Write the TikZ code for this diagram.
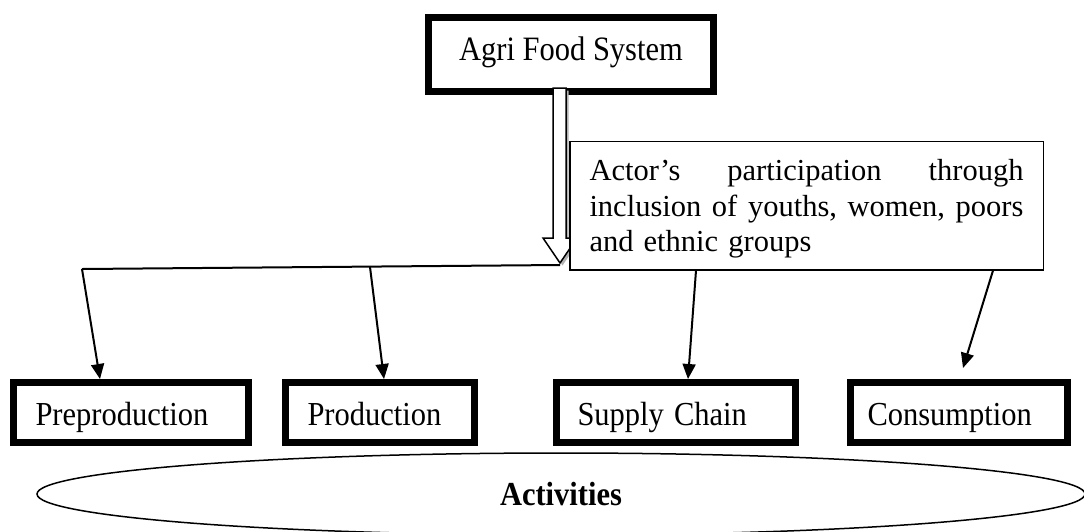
\documentclass[tikz,border=0pt]{standalone}
\usepackage{fontspec}
\setmainfont{Liberation Serif}
\usetikzlibrary{arrows.meta,shapes.geometric}
\newcommand{\vst}[1]{\scalebox{1}[1.1]{#1}}
\newcommand{\fullline}[1]{\leavevmode\hbox to 434pt{#1}}
\begin{document}
\begin{tikzpicture}[x=1pt,y=-1pt,
  bigfont/.style={font=\fontsize{30.5}{35.5}\selectfont},
  thickbox/.style={draw, line width=7pt, bigfont, inner ysep=0pt, minimum height=60pt,
                   text height=27pt, text depth=2pt, align=left},
  conn/.style={line width=2pt},
  arr/.style={line width=2pt, -{Triangle[length=15pt,width=13pt]}}]
\useasboundingbox (0,0) rectangle (1084,531);
\begin{scope}
\clip (0,0) rectangle (1084,531);

% top box
\node[draw, line width=7pt, bigfont, minimum width=285pt, minimum height=74pt,
      inner sep=0pt, text height=21pt, text depth=10pt] (agri) at (571,54.5)
      {\scalebox{1}[1.12]{Agri Food System}};

% horizontal distribution line
\coordinate (hl) at (82,269);
\coordinate (b2) at (370,267);
\coordinate (hr) at (560,265);
\draw[conn] (hl) -- (hr);

% bottom boxes
\node[thickbox, text width=191pt, inner xsep=22pt] (pre) at (131,412.5) {\vst{Preproduction}};
\node[thickbox, text width=145pt, inner xsep=22pt] (prod) at (380,412.5) {\vst{Production}};
\node[thickbox, text width=197pt, inner xsep=21pt] (sup) at (676,412.5) {\vst{Supply Chain}};
\node[thickbox, text width=183pt, inner xsep=17pt] (cons) at (959,412.5) {\vst{Consumption}};

% hollow block arrow with shadow
\begin{scope}[shift={(2.5,2.5)}]
\fill[gray!60] (553,88) -- (566,88) -- (566,238) -- (577,238) -- (560,263)
   -- (543,238) -- (553,238) -- cycle;
\end{scope}
\draw[fill=white, line width=1.5pt, line join=miter] (553,88) -- (566,88) -- (566,238)
   -- (577,238) -- (560,263) -- (543,238) -- (553,238) -- cycle;

% text box
\node[draw, fill=white, line width=1.5pt, bigfont, text width=434pt, inner xsep=19.75pt,
      inner ysep=0pt, minimum height=128.5pt, align=left] (actor) at (806.5,205.5)
  {\rule{0pt}{28pt}\fullline{Actor’s\hfill participation\hfill through}\\
   \fullline{inclusion\hfill of\hfill youths,\hfill women,\hfill poors}\\
   and ethnic groups};

% connectors
\draw[arr] (hl) -- ([xshift=-31pt]pre.north);
\draw[arr] (b2) -- ([xshift=4pt]prod.north);
\draw[arr] ([xshift=-110.5pt]actor.south) -- ([xshift=12pt]sup.north);
\coordinate (c4) at ([xshift=4pt,yshift=11pt]cons.north);
\draw[arr] ([xshift=186.5pt]actor.south) -- (c4);

% activities ellipse
\node[ellipse, draw, line width=1.5pt, minimum width=1048pt, minimum height=82pt,
      inner sep=0pt, font=\fontsize{30.5}{35.5}\selectfont\bfseries] (act) at (561,494)
      {\vst{Activities}};
\end{scope}
\end{tikzpicture}
\end{document}
